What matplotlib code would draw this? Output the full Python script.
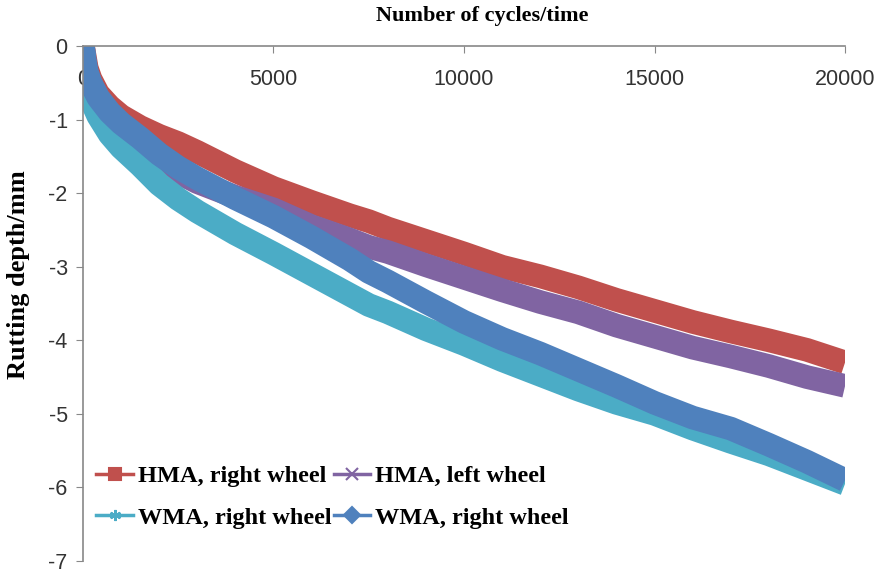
import matplotlib
matplotlib.use("Agg")
import matplotlib.pyplot as plt
from matplotlib.lines import Line2D

cycles = [0, 50, 100, 200, 400, 700, 1000, 1500, 2000, 2500, 3000, 4000, 5000,
          6000, 7000, 7500, 8000, 9000, 10000, 11000, 12000, 13000, 14000,
          15000, 16000, 17000, 18000, 19000, 20000]

hma_right = [0, -0.15, -0.3, -0.45, -0.65, -0.82, -0.95, -1.1, -1.22, -1.32, -1.44,
             -1.7, -1.93, -2.12, -2.3, -2.38, -2.48, -2.65, -2.82, -3.0, -3.13,
             -3.28, -3.45, -3.6, -3.75, -3.88, -4.0, -4.13, -4.3]
hma_left = [0, -0.25, -0.4, -0.55, -0.75, -0.95, -1.1, -1.33, -1.52, -1.72, -1.85,
            -2.05, -2.22, -2.45, -2.63, -2.73, -2.8, -2.98, -3.15, -3.32, -3.48,
            -3.62, -3.8, -3.95, -4.1, -4.22, -4.35, -4.5, -4.62]
wma_right_1 = [0, -0.35, -0.55, -0.72, -0.95, -1.2, -1.38, -1.62, -1.88, -2.08, -2.25,
               -2.55, -2.82, -3.1, -3.38, -3.52, -3.62, -3.85, -4.05, -4.27, -4.47,
               -4.67, -4.85, -5.0, -5.2, -5.38, -5.55, -5.75, -5.95]
wma_right_2 = [0, -0.2, -0.35, -0.5, -0.7, -0.9, -1.05, -1.25, -1.47, -1.65, -1.8,
               -2.07, -2.32, -2.6, -2.9, -3.07, -3.2, -3.48, -3.75, -3.98, -4.18,
               -4.4, -4.62, -4.85, -5.05, -5.2, -5.42, -5.65, -5.9]

labels = ["HMA, right wheel", "HMA, left wheel", "WMA, right wheel", "WMA, right wheel"]
colors = ["#C0504D", "#8064A2", "#4BACC6", "#4F81BD"]
markers = ["s", "x", (6, 2, 0), "D"]
series = [hma_right, hma_left, wma_right_1, wma_right_2]

x_ticks = [0, 5000, 10000, 15000, 20000]
y_ticks = [0, -1, -2, -3, -4, -5, -6, -7]

fig = plt.figure(figsize=(8.76, 5.73), dpi=100)
ax = fig.add_axes([0.0947, 0.0209, 0.87, 0.8988])

for ys, c in zip(series, colors):
    ax.plot(cycles, ys, color=c, lw=17, solid_capstyle="butt", solid_joinstyle="round")

ax.set_xlim(0, 20000)
ax.set_ylim(-7, 0)
ax.set_xticks(x_ticks)
ax.set_yticks(y_ticks)
ax.set_xticklabels([str(t) for t in x_ticks])
ax.set_yticklabels([str(t) for t in y_ticks])

for s in ["bottom", "right"]:
    ax.spines[s].set_visible(False)
for s in ["top", "left"]:
    ax.spines[s].set_color("#888888")
    ax.spines[s].set_linewidth(1.2)

ax.tick_params(axis="x", top=True, bottom=False, labeltop=True, labelbottom=False,
               direction="in", length=5, color="#888888", pad=-32)
ax.tick_params(axis="y", direction="out", length=5, color="#888888", pad=6)
for lab in ax.get_xticklabels() + ax.get_yticklabels():
    lab.set_fontfamily("Liberation Sans")
    lab.set_fontsize(15.5)
    lab.set_color("#333333")

fig.text(0.551, 0.972, "Number of cycles/time", ha="center", va="center",
         family="Liberation Serif", weight="bold", fontsize=16)
fig.text(0.021, 0.52, "Rutting depth/mm", ha="center", va="center", rotation=90,
         family="Liberation Serif", weight="bold", fontsize=19)

handles = [Line2D([0], [0], color=c, lw=2.5, marker=m, markersize=8,
                  markeredgewidth=1.5)
           for c, m in zip(colors, markers)]
# legend fills column-wise, so reorder to get the reference's row layout
order = [0, 2, 1, 3]
ax.legend([handles[i] for i in order], [labels[i] for i in order],
          loc="upper left", bbox_to_anchor=(0.005, 0.205), ncol=2,
          frameon=False, prop={"family": "Liberation Serif", "weight": "bold", "size": 17.5},
          handlelength=1.5, handletextpad=0.2, columnspacing=0.1, labelspacing=0.8,
          borderaxespad=0)

fig.savefig("out.png", dpi=100)
